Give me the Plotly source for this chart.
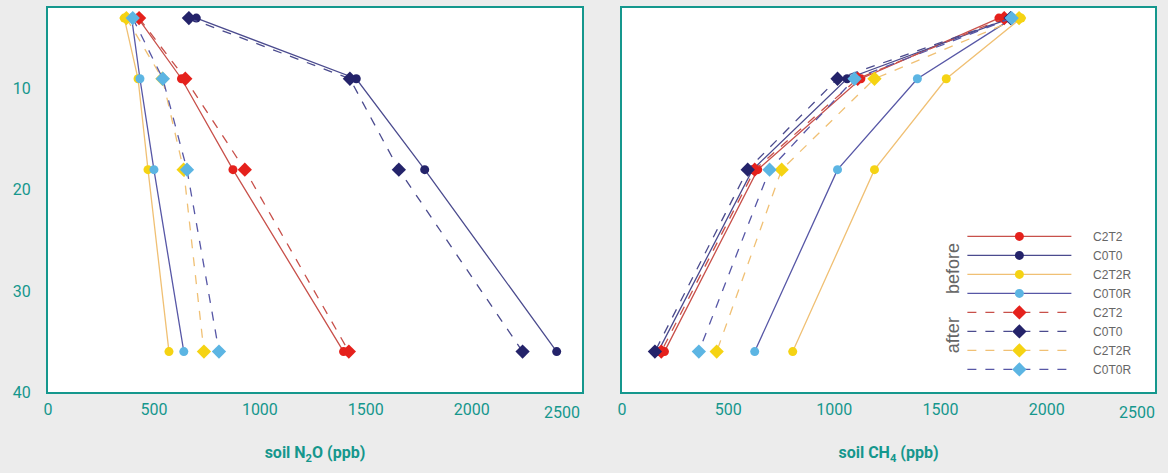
import plotly.graph_objects as go

depths = [3, 9, 18, 36]
series_names = ["C2T2", "C0T0", "C2T2R", "C0T0R"]

# soil N2O (ppb)
n2o_before_C2T2 = [425, 630, 873, 1395]
n2o_before_C0T0 = [700, 1455, 1778, 2401]
n2o_before_C2T2R = [360, 425, 472, 571]
n2o_before_C0T0R = [395, 434, 500, 641]
n2o_after_C2T2 = [430, 648, 929, 1420]
n2o_after_C0T0 = [665, 1425, 1656, 2240]
n2o_after_C2T2R = [370, 540, 640, 736]
n2o_after_C0T0R = [400, 542, 656, 807]

# soil CH4 (ppb)
ch4_before_C2T2 = [1775, 1125, 639, 200]
ch4_before_C0T0 = [1830, 1060, 615, 170]
ch4_before_C2T2R = [1880, 1527, 1189, 804]
ch4_before_C0T0R = [1840, 1391, 1015, 625]
ch4_after_C2T2 = [1800, 1110, 625, 185]
ch4_after_C0T0 = [1830, 1015, 592, 155]
ch4_after_C2T2R = [1870, 1189, 752, 446]
ch4_after_C0T0R = [1835, 1095, 695, 362]

x_ticks = [0, 500, 1000, 1500, 2000, 2500]
x_ticktext = ["0", "500", "1000", "1500", "2000", "2500"]
y_ticks = [10, 20, 30, 40]

marker_colors = {"C2T2": "#e5211c", "C0T0": "#24236a", "C2T2R": "#f5d313", "C0T0R": "#5cb5e3"}
line_colors = {"C2T2": "#c8504a", "C0T0": "#4b4b8e", "C2T2R": "#f0c074", "C0T0R": "#5757a6"}

n2o_before = [n2o_before_C2T2, n2o_before_C0T0, n2o_before_C2T2R, n2o_before_C0T0R]
n2o_after = [n2o_after_C2T2, n2o_after_C0T0, n2o_after_C2T2R, n2o_after_C0T0R]
ch4_before = [ch4_before_C2T2, ch4_before_C0T0, ch4_before_C2T2R, ch4_before_C0T0R]
ch4_after = [ch4_after_C2T2, ch4_after_C0T0, ch4_after_C2T2R, ch4_after_C0T0R]

teal = "#15978d"
fig = go.Figure()

def add(vals, name, dash, symbol, xa, ya, show):
    fig.add_trace(go.Scatter(
        x=vals, y=depths, mode="lines+markers", name="\u00a0" * 5 + name,
        xaxis=xa, yaxis=ya, showlegend=show,
        line=dict(color=line_colors[name], width=1.3, dash=("dash" if dash else "solid")),
        marker=dict(color=marker_colors[name], size=(11 if symbol == "diamond" else 9),
                    symbol=symbol, line=dict(width=0)),
    ))

for i, nm in enumerate(series_names):
    add(n2o_before[i], nm, False, "circle", "x", "y", False)
for i, nm in enumerate(series_names):
    add(n2o_after[i], nm, True, "diamond", "x", "y", False)
for i, nm in enumerate(series_names):
    add(ch4_before[i], nm, False, "circle", "x2", "y2", True)
for i, nm in enumerate(series_names):
    add(ch4_after[i], nm, True, "diamond", "x2", "y2", True)

tickfont = dict(family="Roboto", size=16, color=teal)
axis_common = dict(showgrid=False, zeroline=False, showline=True, linecolor=teal,
                   linewidth=2, mirror=True, ticks="", automargin=False, tickfont=tickfont)

fig.update_layout(
    width=1168, height=473,
    paper_bgcolor="#ececec", plot_bgcolor="#ffffff",
    margin=dict(l=48, r=13, t=8, b=81),
    font=dict(family="Roboto", color=teal),
    xaxis=dict(domain=[0, 0.4823], range=[0, 2520], tickvals=x_ticks[:-1], ticktext=x_ticktext[:-1],
               ticklabelstandoff=2,
               title=dict(text="<b>soil N<sub>2</sub>O (ppb)</b>", font=dict(size=16, color=teal), standoff=29),
               anchor="y", **axis_common),
    yaxis=dict(domain=[0, 1], range=[40, 2], tickvals=y_ticks, ticklabelstandoff=12,
               anchor="x", **axis_common),
    xaxis2=dict(domain=[0.5185, 1], range=[0, 2510], tickvals=x_ticks[:-1], ticktext=x_ticktext[:-1],
                ticklabelstandoff=2,
                title=dict(text="<b>soil CH<sub>4</sub> (ppb)</b>", font=dict(size=16, color=teal), standoff=29),
                anchor="y2", **axis_common),
    yaxis2=dict(domain=[0, 1], range=[40, 2], tickvals=y_ticks, showticklabels=False,
                anchor="x2", **axis_common),
    legend=dict(x=0.826, y=0.443, xanchor="left", yanchor="top", bgcolor="rgba(255,255,255,0.95)",
                font=dict(family="Liberation Sans", size=12, color="#666666"),
                itemwidth=104, tracegroupgap=0,
                traceorder="normal"),
)

# last tick label of each x axis, shifted left as in the original
for xr in ["x", "x2"]:
    fig.add_annotation(xref=xr, yref="paper", x=x_ticks[-1], y=0, yshift=-20, xshift=-16,
                       text=x_ticktext[-1], showarrow=False, xanchor="center", yanchor="middle",
                       font=tickfont)

fig.add_annotation(xref="paper", yref="paper", x=0.8175, y=0.323, text="before",
                   textangle=-90, showarrow=False, xanchor="center", yanchor="middle",
                   font=dict(family="Liberation Sans", size=18, color="#666666"))
fig.add_annotation(xref="paper", yref="paper", x=0.8175, y=0.148, text="after",
                   textangle=-90, showarrow=False, xanchor="center", yanchor="middle",
                   font=dict(family="Liberation Sans", size=18, color="#666666"))

fig.write_html("out.html", config={"displayModeBar": False},
               post_script="document.body.style.margin='0';document.body.style.padding='0';")
